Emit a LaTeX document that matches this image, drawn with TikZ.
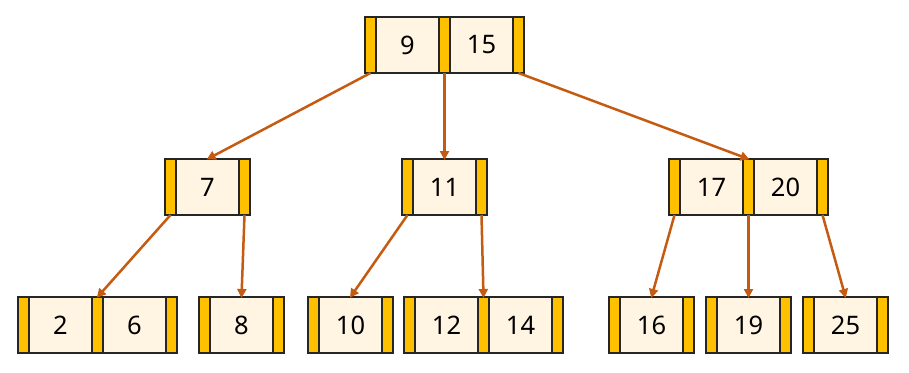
\documentclass[tikz,border=0pt]{standalone}
\usepackage{fontspec}
\setmainfont{Noto Sans}
\usetikzlibrary{arrows.meta,positioning}
\definecolor{ptrc}{HTML}{FFC000}
\definecolor{keyfill}{HTML}{FFF5E2}
\definecolor{bd}{HTML}{262626}
\definecolor{arrc}{HTML}{C55A11}
\tikzset{
  cell/.style={draw=bd, line width=1.3pt, inner sep=0pt, outer sep=0pt, minimum height=56pt},
  ptr/.style={cell, fill=ptrc, minimum width=11pt},
  keycell/.style={cell, fill=keyfill, minimum width=63pt, text=black, font=\fontsize{25.5}{30}\selectfont},
  arr/.style={draw=arrc, line width=2.5pt, -{Triangle[length=9pt,width=9pt]}, shorten >=-1pt}
}
\begin{document}
\begin{tikzpicture}[x=1pt,y=-1pt]
\useasboundingbox (0,0) rectangle (909,372);
% root
\node[ptr, anchor=west] (rp0) at (365,45) {};
\node[keycell, right=0pt of rp0] (rk1) {9};
\node[ptr, right=0pt of rk1] (rp1) {};
\node[keycell, right=0pt of rp1] (rk2) {15};
\node[ptr, right=0pt of rk2] (rp2) {};
% level 2: 7
\node[ptr, anchor=west] (ap0) at (165,187) {};
\node[keycell, right=0pt of ap0] (ak1) {7};
\node[ptr, right=0pt of ak1] (ap1) {};
% level 2: 11
\node[ptr, anchor=west] (bp0) at (402,187) {};
\node[keycell, right=0pt of bp0] (bk1) {11};
\node[ptr, right=0pt of bk1] (bp1) {};
% level 2: 17 20
\node[ptr, anchor=west] (cp0) at (669,187) {};
\node[keycell, right=0pt of cp0] (ck1) {17};
\node[ptr, right=0pt of ck1] (cp1) {};
\node[keycell, right=0pt of cp1] (ck2) {20};
\node[ptr, right=0pt of ck2] (cp2) {};
% leaves
\node[ptr, anchor=west] (dp0) at (18,325) {};
\node[keycell, right=0pt of dp0] (dk1) {2};
\node[ptr, right=0pt of dk1] (dp1) {};
\node[keycell, right=0pt of dp1] (dk2) {6};
\node[ptr, right=0pt of dk2] (dp2) {};

\node[ptr, anchor=west] (ep0) at (199,325) {};
\node[keycell, right=0pt of ep0] (ek1) {8};
\node[ptr, right=0pt of ek1] (ep1) {};

\node[ptr, anchor=west] (fp0) at (308,325) {};
\node[keycell, right=0pt of fp0] (fk1) {10};
\node[ptr, right=0pt of fk1] (fp1) {};

\node[ptr, anchor=west] (gp0) at (404,325) {};
\node[keycell, right=0pt of gp0] (gk1) {12};
\node[ptr, right=0pt of gk1] (gp1) {};
\node[keycell, right=0pt of gp1] (gk2) {14};
\node[ptr, right=0pt of gk2] (gp2) {};

\node[ptr, anchor=west] (hp0) at (609,325) {};
\node[keycell, right=0pt of hp0] (hk1) {16};
\node[ptr, right=0pt of hk1] (hp1) {};

\node[ptr, anchor=west] (ip0) at (706,325) {};
\node[keycell, right=0pt of ip0] (ik1) {19};
\node[ptr, right=0pt of ik1] (ip1) {};

\node[ptr, anchor=west] (jp0) at (803,325) {};
\node[keycell, right=0pt of jp0] (jk1) {25};
\node[ptr, right=0pt of jk1] (jp1) {};
% connectors
\draw[arr] (rp0.south) -- (ak1.north);
\draw[arr] (rp1.south) -- (bk1.north);
\draw[arr] (rp2.south) -- (cp1.north);
\draw[arr] (ap0.south) -- (dp1.north);
\draw[arr] (ap1.south) -- (ek1.north);
\draw[arr] (bp0.south) -- (fk1.north);
\draw[arr] (bp1.south) -- (gp1.north);
\draw[arr] (cp0.south) -- (hk1.north);
\draw[arr] (cp1.south) -- (ik1.north);
\draw[arr] (cp2.south) -- (jk1.north);
\end{tikzpicture}
\end{document}
